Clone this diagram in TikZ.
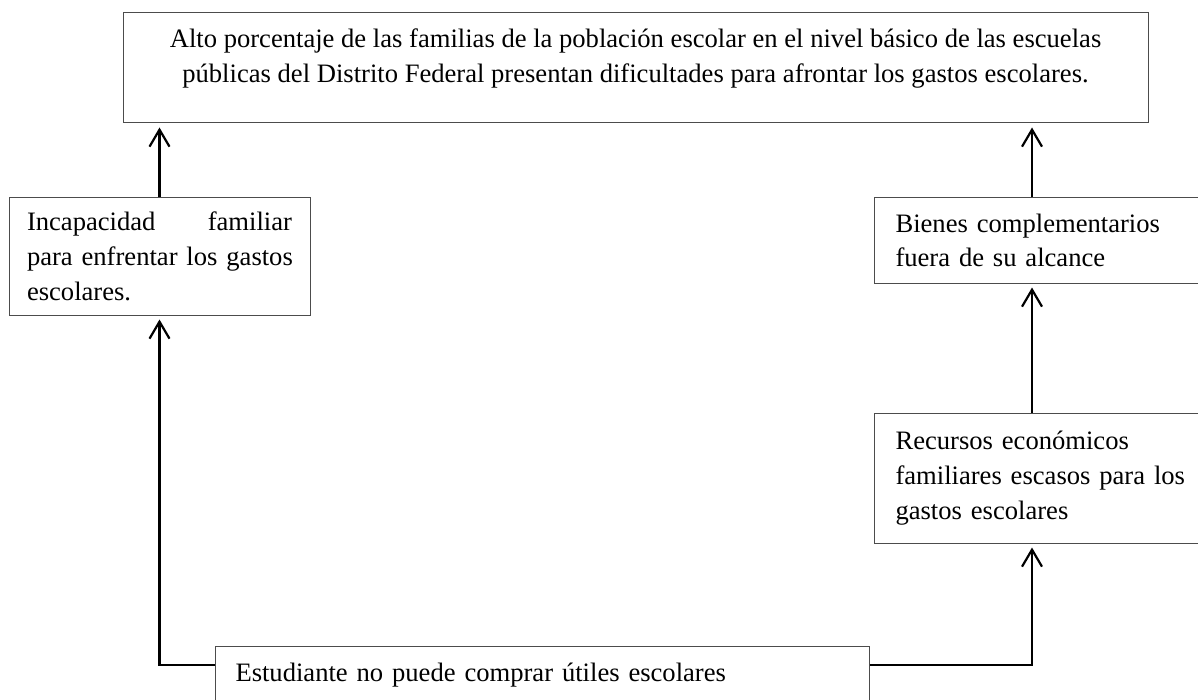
\documentclass[tikz,border=0pt]{standalone}
\usepackage{fontspec}
\setmainfont{Liberation Serif}
\usetikzlibrary{arrows.meta}

\begin{document}
\begin{tikzpicture}[x=0.5pt, y=-0.5pt,
        caja/.style={draw=black!70, line width=0.5pt, inner xsep=10pt, inner ysep=0pt,
          font=\fontsize{13.3}{17.4}\selectfont},
        flecha/.style={line width=1.1pt, -{Straight Barb[length=8.5pt,width=10pt]}, shorten >=2pt}]
    \useasboundingbox (0,0) rectangle (1198,700);
        \node[caja, minimum width=512.5pt, minimum height=55pt, align=center] (efecto) at (635.5,68)
            {Alto porcentaje de las familias de la población escolar en el nivel básico de las escuelas\\
             públicas del Distrito Federal presentan dificultades para afrontar los gastos escolares.\\[-4.9pt]\mbox{}};
        \node[caja, inner xsep=9pt, minimum width=150.5pt, minimum height=58.5pt, text width=132.5pt, align=left] (incapacidad) at (159.5,256.5)
            {Incapacidad\hfill familiar\\\mbox{para enfrentar los gastos}\\escolares.};
        \node[caja, inner xsep=10.5pt, minimum height=42.5pt, text width=150pt, align=left, anchor=west] (bienes) at (874,240.5)
            {Bienes complementarios\\fuera de su alcance};
        \node[caja, inner xsep=10.5pt, minimum height=65pt, text width=150pt, align=left, anchor=west] (recursos) at (874,478)
            {Recursos económicos\\familiares escasos para los\\gastos escolares};
        \node[caja, minimum height=28.5pt, text width=307pt, align=left, anchor=north west] (estudiante) at (215,646)
            {Estudiante no puede comprar útiles escolares};
        \coordinate (bn) at ([xshift=79pt]bienes.north west);
        \coordinate (bs) at ([xshift=79pt]bienes.south west);
        \coordinate (rn) at ([xshift=79pt]recursos.north west);
        \coordinate (rs) at ([xshift=79pt]recursos.south west);
        \draw[flecha] (incapacidad.north) -- (incapacidad.north |- efecto.south);
        \draw[flecha] (bn) -- (bn |- efecto.south);
        \draw[flecha] (rn) -- (bs);
        \draw[flecha] ([yshift=-9.5pt]estudiante.north west) -| (incapacidad.south);
        \draw[flecha] ([yshift=-9.5pt]estudiante.north east) -| (rs);
\end{tikzpicture}
\end{document}
